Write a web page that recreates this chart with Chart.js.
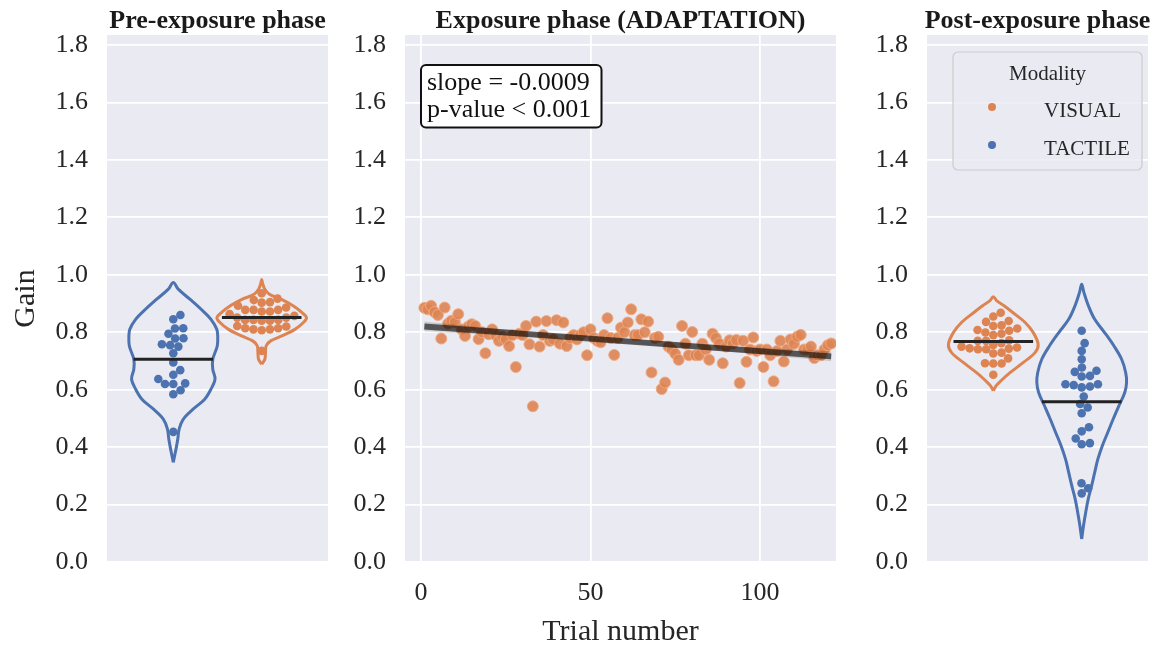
<!DOCTYPE html>
<html>
<head>
<meta charset="utf-8">
<title>Gain by phase</title>
<script src="https://cdn.jsdelivr.net/npm/chart.js@4.4.0/dist/chart.umd.min.js"></script>
<style>
  body { margin: 0; background: #fff; width: 1157px; height: 648px; overflow: hidden; position: relative; }
  .panel { position: absolute; top: 0; height: 648px; }
</style>
</head>
<body>
<div class="panel" style="left:0;width:335px"><canvas id="pre"></canvas></div>
<div class="panel" style="left:335px;width:515px"><canvas id="adapt"></canvas></div>
<div class="panel" style="left:850px;width:307px"><canvas id="post"></canvas></div>
<script>
// ---- data ----
const panelTitles = ['Pre-exposure phase', 'Exposure phase (ADAPTATION)', 'Post-exposure phase'];
const modalities = ['VISUAL', 'TACTILE'];
const gainTicks = [0, 0.2, 0.4, 0.6, 0.8, 1.0, 1.2, 1.4, 1.6, 1.8];
const trialTicks = [0, 50, 100];

// per-participant gains (swarm dots)
const preTactile = [0.860, 0.845, 0.813, 0.814, 0.795, 0.778, 0.779, 0.758, 0.750, 0.755, 0.727,
  0.695, 0.668, 0.652, 0.622, 0.620, 0.620, 0.637, 0.598, 0.584, 0.453];
const preVisual = [0.936, 0.917, 0.905, 0.903, 0.912, 0.886, 0.878, 0.872, 0.872, 0.878, 0.878, 0.892,
  0.863, 0.857, 0.843, 0.840, 0.840, 0.843, 0.843, 0.851, 0.851, 0.822, 0.814, 0.810, 0.807, 0.810,
  0.814, 0.820, 0.735];
const postVisual = [0.868, 0.855, 0.839, 0.836, 0.822, 0.824, 0.813, 0.805, 0.795, 0.790, 0.799, 0.808,
  0.772, 0.770, 0.770, 0.762, 0.756, 0.744, 0.741, 0.741, 0.750, 0.729, 0.726, 0.743, 0.747, 0.709,
  0.691, 0.691, 0.692, 0.652];
const postTactile = [0.805, 0.762, 0.735, 0.706, 0.677, 0.666, 0.648, 0.646, 0.662, 0.619, 0.611, 0.608,
  0.616, 0.619, 0.576, 0.550, 0.538, 0.518, 0.469, 0.455, 0.430, 0.414, 0.410, 0.274, 0.257, 0.239];

// group means (black bars)
const preMean = { visual: 0.851, tactile: 0.706 };
const postMean = { visual: 0.768, tactile: 0.558 };

// violin outlines: gain level and relative width (1 = full violin width)
const preTactileLevels = [0.347, 0.370, 0.393, 0.428, 0.463, 0.497, 0.532, 0.567, 0.602, 0.637, 0.671,
  0.706, 0.752, 0.787, 0.810, 0.845, 0.880, 0.915, 0.950, 0.973];
const preTactileWidth = [0, 0.03, 0.06, 0.10, 0.13, 0.22, 0.44, 0.70, 0.84, 0.93, 0.88,
  0.88, 0.98, 0.99, 0.97, 0.84, 0.62, 0.37, 0.11, 0];
const preVisualLevels = [0.689, 0.706, 0.730, 0.753, 0.770, 0.787, 0.810, 0.834, 0.851, 0.868, 0.892,
  0.915, 0.932, 0.950, 0.970, 0.984];
const preVisualWidth = [0, 0.07, 0.085, 0.10, 0.20, 0.45, 0.74, 0.93, 1.0, 0.90, 0.70,
  0.43, 0.17, 0.07, 0.02, 0];
const postVisualLevels = [0.596, 0.613, 0.631, 0.660, 0.695, 0.729, 0.758, 0.799, 0.834, 0.868, 0.892,
  0.909, 0.924];
const postVisualWidth = [0, 0.06, 0.17, 0.38, 0.67, 0.93, 1.0, 0.89, 0.71, 0.44, 0.24, 0.08, 0];
const postTactileLevels = [0.080, 0.126, 0.173, 0.219, 0.265, 0.312, 0.358, 0.405, 0.451, 0.497, 0.544,
  0.590, 0.625, 0.660, 0.706, 0.752, 0.799, 0.845, 0.892, 0.938, 0.967];
const postTactileWidth = [0, 0.04, 0.09, 0.145, 0.22, 0.29, 0.36, 0.46, 0.58, 0.70, 0.83,
  0.96, 1.0, 0.98, 0.89, 0.72, 0.51, 0.29, 0.15, 0.05, 0];

// adaptation phase: gain per trial (trial 1..121)
const adaptGain = [
  0.885, 0.880, 0.892, 0.870, 0.860, 0.778, 0.886, 0.830, 0.840, 0.835,
  0.863, 0.810, 0.787, 0.820, 0.828, 0.822, 0.776, 0.800, 0.727, 0.793,
  0.810, 0.790, 0.770, 0.785, 0.775, 0.752, 0.790, 0.679, 0.795, 0.790,
  0.822, 0.758, 0.542, 0.837, 0.750, 0.790, 0.839, 0.770, 0.775, 0.842,
  0.760, 0.834, 0.752, 0.780, 0.790, 0.775, 0.790, 0.800, 0.720, 0.810,
  0.780, 0.770, 0.765, 0.790, 0.849, 0.780, 0.721, 0.780, 0.816, 0.800,
  0.834, 0.880, 0.790, 0.790, 0.845, 0.800, 0.837, 0.660, 0.780, 0.784,
  0.602, 0.625, 0.750, 0.740, 0.725, 0.704, 0.822, 0.760, 0.720, 0.801,
  0.720, 0.720, 0.760, 0.740, 0.704, 0.795, 0.780, 0.760, 0.692, 0.750,
  0.772, 0.760, 0.773, 0.623, 0.770, 0.697, 0.740, 0.782, 0.735, 0.740,
  0.679, 0.740, 0.720, 0.629, 0.735, 0.770, 0.698, 0.740, 0.775, 0.760,
  0.785, 0.791, 0.740, 0.740, 0.750, 0.710, 0.720, 0.720, 0.740, 0.755, 0.761
];
const fitTrials = [1, 121];
const fitGain = [0.820, 0.716];
const ciTrials = [1, 30, 60, 90, 121];
const ciLow = [0.803, 0.786, 0.761, 0.733, 0.699];
const ciHigh = [0.837, 0.804, 0.777, 0.753, 0.733];
const statLines = ['slope = -0.0009', 'p-value < 0.001'];

// ---- style ----
const FONT = '"Liberation Serif", "Times New Roman", serif';
const INK = '#262626';
const BG = '#EAEAF2';
const BLUE = '#4C72B0';
const ORANGE = '#DD8452';
const GAIN_MAX = 1.835;
const HALF = 0.203;          // half violin width, category units
const DOT = 8.3;             // swarm dot spacing, px
const PX_PER_CAT = 221;
const PX_PER_GAIN = 527 / GAIN_MAX;

Chart.defaults.font.family = FONT;
Chart.defaults.color = INK;

function outline(levels, widths, center) {
  const right = levels.map((g, i) => ({ x: center + widths[i] * HALF, y: g }));
  const left = levels.map((g, i) => ({ x: center - widths[i] * HALF, y: g })).reverse();
  return right.concat(left.slice(1));
}

// simple beeswarm, like seaborn: place each dot nearest the centre without overlap
function swarm(values, center) {
  const placed = [];
  values.slice().sort((a, b) => a - b).forEach(v => {
    const y = v * PX_PER_GAIN;
    const near = placed.filter(p => Math.abs(p.y - y) < DOT);
    const cands = [0];
    near.forEach(p => {
      const dx = Math.sqrt(DOT * DOT - (p.y - y) * (p.y - y));
      cands.push(p.x + dx, p.x - dx);
    });
    cands.sort((a, b) => Math.abs(a) - Math.abs(b));
    const x = cands.find(c => near.every(p => Math.hypot(p.x - c, p.y - y) >= DOT - 1e-6));
    placed.push({ x: x || 0, y });
  });
  return placed.map(p => ({ x: center + p.x / PX_PER_CAT, y: p.y / PX_PER_GAIN }));
}

const panelDecor = {
  id: 'panelDecor',
  beforeDraw(chart, args, opts) {
    const a = chart.chartArea, ctx = chart.ctx;
    ctx.save();
    ctx.fillStyle = BG;
    ctx.fillRect(a.left, a.top, a.width, a.height);
    ctx.font = 'bold 26px ' + FONT;
    ctx.fillStyle = '#1a1a1a';
    ctx.textAlign = 'center';
    ctx.textBaseline = 'alphabetic';
    ctx.fillText(opts.title, (a.left + a.right) / 2, 28);
    ctx.restore();
  }
};

function gainAxis(width, showTitle) {
  return {
    min: 0, max: GAIN_MAX,
    afterBuildTicks: s => { s.ticks = gainTicks.map(v => ({ value: v })); },
    afterFit: s => { s.width = width; },
    ticks: { callback: v => v.toFixed(1), padding: 19, font: { size: 26 }, color: INK, autoSkip: false },
    grid: { color: '#ffffff', lineWidth: 1.8, drawTicks: false },
    border: { display: false },
    title: { display: showTitle, text: 'Gain', font: { size: 30 }, color: INK, padding: { top: 8, bottom: 0 } }
  };
}

function violinPanel(id, title, groups, yWidth, padRight, extra) {
  const datasets = [];
  groups.forEach(g => {
    datasets.push({ data: outline(g.levels, g.widths, g.pos), showLine: true, borderColor: g.color,
      borderWidth: 3, pointRadius: 0, tension: 0.35, fill: false, order: 3 });
    datasets.push({ data: swarm(g.values, g.pos), backgroundColor: g.color, borderWidth: 0,
      pointRadius: 4.3, order: 2 });
    datasets.push({ data: [{ x: g.pos - 0.18, y: g.mean }, { x: g.pos + 0.18, y: g.mean }], showLine: true,
      borderColor: '#222222', borderWidth: 3, pointRadius: 0, order: 1 });
  });
  return new Chart(document.getElementById(id), {
    type: 'scatter',
    data: { datasets },
    options: {
      responsive: true, maintainAspectRatio: false, animation: false, events: [],
      layout: { padding: { top: 35, right: padRight, bottom: 86, left: 0 } },
      plugins: { legend: { display: false }, tooltip: { enabled: false }, panelDecor: { title } },
      scales: {
        x: { type: 'linear', min: -0.5, max: 0.5, display: false },
        y: gainAxis(yWidth, id === 'pre')
      }
    },
    plugins: [panelDecor].concat(extra || [])
  });
}

violinPanel('pre', panelTitles[0], [
  { pos: -0.2, color: BLUE, values: preTactile, mean: preMean.tactile, levels: preTactileLevels, widths: preTactileWidth },
  { pos: 0.2, color: ORANGE, values: preVisual, mean: preMean.visual, levels: preVisualLevels, widths: preVisualWidth }
], 107, 7);

const modalityLegend = {
  id: 'modalityLegend',
  afterDraw(chart) {
    const a = chart.chartArea, ctx = chart.ctx;
    const w = 189, h = 118, left = a.right - 6 - w, top = a.top + 17;
    ctx.save();
    ctx.beginPath();
    ctx.roundRect(left, top, w, h, 5);
    ctx.fillStyle = 'rgba(234,234,242,0.8)';
    ctx.fill();
    ctx.strokeStyle = '#cccccc';
    ctx.lineWidth = 1.2;
    ctx.stroke();
    ctx.font = '21px ' + FONT;
    ctx.fillStyle = INK;
    ctx.textAlign = 'center';
    ctx.fillText('Modality', left + w / 2, top + 27.5);
    ctx.textAlign = 'left';
    [ORANGE, BLUE].forEach((c, i) => {
      const y = top + 55 + i * 38;
      ctx.beginPath();
      ctx.arc(left + 39, y, 4, 0, Math.PI * 2);
      ctx.fillStyle = c;
      ctx.fill();
      ctx.fillStyle = INK;
      ctx.fillText(modalities[i], left + 91, y + 10);
    });
    ctx.restore();
  }
};

violinPanel('post', panelTitles[2], [
  { pos: -0.2, color: ORANGE, values: postVisual, mean: postMean.visual, levels: postVisualLevels, widths: postVisualWidth },
  { pos: 0.2, color: BLUE, values: postTactile, mean: postMean.tactile, levels: postTactileLevels, widths: postTactileWidth }
], 77, 9, [modalityLegend]);

// exposure phase
const statBox = {
  id: 'statBox',
  afterDraw(chart) {
    const a = chart.chartArea, ctx = chart.ctx;
    const left = a.left + 16, top = a.top + 30, w = 180.5, h = 62.5;
    ctx.save();
    ctx.beginPath();
    ctx.roundRect(left, top, w, h, 5);
    ctx.fillStyle = '#ffffff';
    ctx.fill();
    ctx.strokeStyle = '#111111';
    ctx.lineWidth = 2;
    ctx.stroke();
    ctx.font = '26px ' + FONT;
    ctx.fillStyle = '#111111';
    ctx.textAlign = 'left';
    ctx.textBaseline = 'alphabetic';
    statLines.forEach((s, i) => ctx.fillText(s, left + 6, top + 24.5 + i * 27));
    ctx.restore();
  }
};

new Chart(document.getElementById('adapt'), {
  type: 'scatter',
  data: {
    datasets: [
      { data: ciTrials.map((t, i) => ({ x: t, y: ciLow[i] })), showLine: true, borderWidth: 0,
        pointRadius: 0, tension: 0.4, borderColor: 'rgba(0,0,0,0)', order: 2 },
      { data: ciTrials.map((t, i) => ({ x: t, y: ciHigh[i] })), showLine: true, borderWidth: 0,
        pointRadius: 0, tension: 0.4, borderColor: 'rgba(0,0,0,0)', fill: '-1',
        backgroundColor: 'rgba(0,0,0,0.14)', order: 2 },
      { data: fitTrials.map((t, i) => ({ x: t, y: fitGain[i] })), showLine: true, borderWidth: 6,
        borderColor: 'rgba(0,0,0,0.58)', pointRadius: 0, order: 1 },
      { data: adaptGain.map((g, i) => ({ x: i + 1, y: g })), backgroundColor: 'rgba(221,132,82,0.9)',
        borderColor: 'rgba(240,170,130,0.9)', borderWidth: 1, pointRadius: 5.5, order: 3 }
    ]
  },
  options: {
    responsive: true, maintainAspectRatio: false, animation: false, events: [],
    layout: { padding: { top: 35, right: 14, bottom: 0, left: 0 } },
    plugins: { legend: { display: false }, tooltip: { enabled: false }, panelDecor: { title: panelTitles[1] } },
    scales: {
      x: {
        type: 'linear', min: -4.7, max: 122.4,
        afterBuildTicks: s => { s.ticks = trialTicks.map(v => ({ value: v })); },
        afterFit: s => { s.height = 86; },
        ticks: { callback: v => String(v), padding: 16, font: { size: 26 }, color: INK, autoSkip: false, maxRotation: 0 },
        grid: { color: '#ffffff', lineWidth: 1.8, drawTicks: false },
        border: { display: false },
        title: { display: true, text: 'Trial number', font: { size: 30, lineHeight: 1.05 }, color: INK, padding: 0 }
      },
      y: gainAxis(70, false)
    }
  },
  plugins: [panelDecor, statBox]
});
</script>
</body>
</html>
